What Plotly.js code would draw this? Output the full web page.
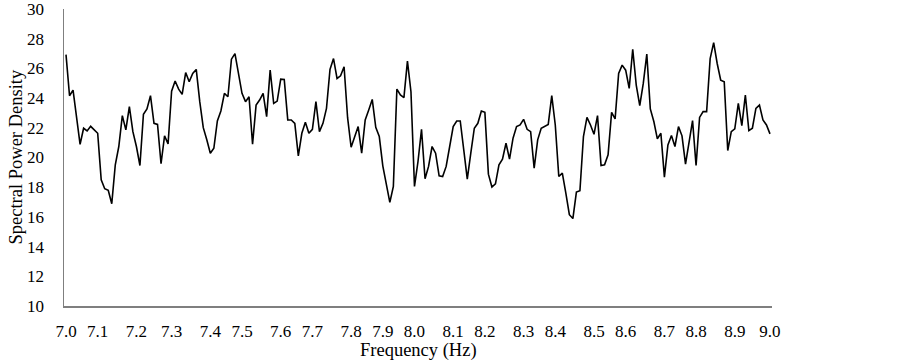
<!DOCTYPE html>
<html>
<head>
<meta charset="utf-8">
<script src="https://cdn.plot.ly/plotly-3.0.1.min.js"></script>
<style>html,body{margin:0;padding:0;background:#fff;}#chart{width:903px;height:360px;}</style>
</head>
<body>
<div id="chart"></div>
<script>
// Frequencies: 7.00 to 9.00 Hz in 0.01 Hz steps (201 samples)
const startHz = 7.0;
const stepHz = 0.01;

// Spectral power density
const spectralPower = [
  26.93, 24.16, 24.54, 22.70, 20.89, 21.97, 21.79, 22.10, 21.86, 21.63,
  18.50, 17.90, 17.79, 16.89, 19.51, 20.74, 22.82, 21.86, 23.42, 21.74,
  20.74, 19.46, 22.91, 23.27, 24.16, 22.30, 22.23, 19.58, 21.46, 20.92,
  24.47, 25.15, 24.60, 24.25, 25.72, 25.10, 25.66, 25.93, 23.76, 22.01,
  21.19, 20.29, 20.62, 22.46, 23.13, 24.32, 24.09, 26.62, 27.00, 25.77,
  24.32, 23.76, 24.09, 20.89, 23.53, 23.87, 24.32, 22.75, 25.88, 23.64,
  23.80, 25.28, 25.26, 22.53, 22.53, 22.30, 20.11, 21.63, 22.37, 21.63,
  21.90, 23.76, 21.74, 22.30, 23.31, 25.93, 26.66, 25.32, 25.50, 26.11,
  22.68, 20.69, 21.41, 22.08, 20.29, 22.53, 23.20, 23.91, 22.03, 21.41,
  19.44, 18.23, 16.98, 18.05, 24.61, 24.21, 24.03, 26.49, 24.43, 18.05,
  19.73, 21.90, 18.57, 19.40, 20.74, 20.29, 18.77, 18.72, 19.40, 20.74,
  22.08, 22.46, 22.46, 20.51, 18.55, 20.29, 21.97, 22.30, 23.13, 23.04,
  18.88, 18.01, 18.23, 19.51, 19.89, 20.96, 19.89, 21.30, 22.08, 22.19,
  22.57, 21.90, 21.74, 19.28, 21.19, 21.97, 22.08, 22.23, 24.16, 22.19,
  18.72, 18.95, 17.60, 16.15, 15.89, 17.67, 17.76, 21.41, 22.70, 22.19,
  21.56, 22.82, 19.46, 19.51, 20.18, 23.04, 22.60, 25.66, 26.22, 25.88,
  24.65, 27.29, 24.88, 23.50, 24.99, 26.96, 23.27, 22.42, 21.26, 21.63,
  18.68, 20.85, 21.48, 20.74, 22.08, 21.46, 19.55, 21.12, 22.48, 19.46,
  22.70, 23.09, 23.09, 26.66, 27.74, 26.33, 25.21, 25.10, 20.47, 21.74,
  21.93, 23.64, 22.15, 24.21, 21.81, 21.97, 23.31, 23.53, 22.53, 22.19,
  21.59
];

// Tick labels and where they sit along the axis (Hz)
const xTickText = ["7.0","7.1","7.2","7.3","7.4","7.5","7.6","7.7","7.8","7.9","8.0",
                   "8.1","8.2","8.3","8.4","8.5","8.6","8.7","8.8","8.9","9.0"];
const xTickPos  = [7.00, 7.09, 7.20, 7.30, 7.41, 7.50, 7.61, 7.70, 7.81, 7.90, 7.99,
                   8.10, 8.19, 8.30, 8.39, 8.50, 8.59, 8.70, 8.79, 8.90, 9.00];
const yTicks = [10, 12, 14, 16, 18, 20, 22, 24, 26, 28, 30];
const xTitle = "Frequency (Hz)";
const yTitle = "Spectral Power Density";

const freq = spectralPower.map((_, i) => +(startHz + i * stepHz).toFixed(2));

const family = "Liberation Serif, Times New Roman, serif";
const tickFont = {family: family, size: 17, color: "#000"};
const titleFont = {family: family, size: 18.5, color: "#000"};

Plotly.newPlot("chart", [{
  x: freq,
  y: spectralPower,
  type: "scatter",
  mode: "lines",
  line: {color: "#000", width: 1.6},
  hoverinfo: "skip"
}], {
  width: 903,
  height: 360,
  margin: {l: 64, r: 131, t: 9, b: 54},
  paper_bgcolor: "#fff",
  plot_bgcolor: "#fff",
  font: tickFont,
  showlegend: false,
  xaxis: {
    range: [6.9943, 9.0057],
    tickmode: "array",
    tickvals: xTickPos,
    ticktext: xTickText,
    ticks: "",
    showgrid: false,
    zeroline: false,
    showline: true,
    linecolor: "#7f7f7f",
    linewidth: 1.5,
    ticklabelstandoff: 9,
    ticklabeloverflow: "allow",
    tickfont: tickFont
  },
  yaxis: {
    range: [10, 30],
    tickmode: "array",
    tickvals: yTicks,
    ticks: "",
    showgrid: false,
    zeroline: false,
    showline: true,
    linecolor: "#7f7f7f",
    linewidth: 1.5,
    ticklabelstandoff: 15,
    ticklabeloverflow: "allow",
    tickfont: tickFont
  },
  annotations: [
    {text: xTitle, xref: "paper", yref: "paper", x: 0.5, y: 0,
     xanchor: "center", yanchor: "middle", yshift: -44, showarrow: false, font: titleFont},
    {text: yTitle, xref: "paper", yref: "paper", x: 0, y: 0.5, textangle: -90,
     xanchor: "center", yanchor: "middle", xshift: -49, showarrow: false, font: titleFont}
  ]
}, {displayModeBar: false, staticPlot: true});
</script>
</body>
</html>
